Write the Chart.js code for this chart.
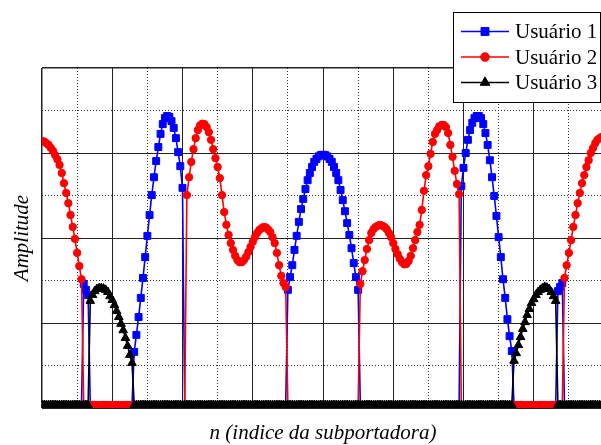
<!DOCTYPE html>
<html>
<head>
<meta charset="utf-8">
<script src="https://cdn.jsdelivr.net/npm/chart.js"></script>
<style>
	html, body { margin: 0; padding: 0; background: #fff; overflow: hidden; }
	#mycanvas { display: block; }
</style>
</head>
<body>
<canvas id="mycanvas" width="610" height="445"></canvas>
<script>
// amplitude por subportadora (n = 0..255)
var usuario1 = [
	0,0,0,0,0,0,0,0,0,0,0,0,0,0,0,0,
	0,0,0,2.85,2.71,2.59,0,0,0,0,0,0,0,0,0,0,
	0,0,0,0,0,0,0,0,0,0,1.25,1.65,2.07,2.52,2.99,3.48,
	3.98,4.47,4.94,5.36,5.74,6.07,6.38,6.61,6.75,6.80,6.78,6.68,6.52,6.28,5.95,5.62,
	5.11,0,0,0,0,0,0,0,0,0,0,0,0,0,0,0,
	0,0,0,0,0,0,0,0,0,0,0,0,0,0,0,0,
	0,0,0,0,0,0,0,0,0,0,0,0,0,0,0,0,
	2.71,3.01,3.29,3.65,3.98,4.31,4.61,4.85,5.08,5.29,5.46,5.60,5.72,5.79,5.85,5.88,
	5.89,5.88,5.85,5.79,5.72,5.60,5.46,5.29,5.06,4.82,4.56,4.28,4.00,3.69,3.34,3.01,
	2.71,0,0,0,0,0,0,0,0,0,0,0,0,0,0,0,
	0,0,0,0,0,0,0,0,0,0,0,0,0,0,0,0,
	0,0,0,0,0,0,0,0,0,0,0,0,0,0,0,5.15,
	5.58,5.93,6.24,6.47,6.64,6.75,6.80,6.80,6.75,6.61,6.40,6.12,5.76,5.36,4.92,4.45,
	3.95,3.48,2.96,2.52,2.02,1.62,1.27,0,0,0,0,0,0,0,0,0,
	0,0,0,0,0,0,0,0,0,0,0,2.68,2.78,2.87,0,0,
	0,0,0,0,0,0,0,0,0,0,0,0,0,0,0,0
];
var usuario2 = [
	6.21,6.20,6.16,6.12,6.05,5.98,5.88,5.78,5.65,5.46,5.22,4.99,4.75,4.47,4.19,3.91,
	3.58,3.27,2.96,0,0,0,0,0,0,0,0,0,0,0,0,0,
	0,0,0,0,0,0,0,0,0,0,0,0,0,0,0,0,
	0,0,0,0,0,0,0,0,0,0,0,0,0,0,0,0,
	0,0,4.94,5.36,5.72,6.02,6.28,6.47,6.58,6.62,6.61,6.54,6.42,6.24,6.02,5.81,
	5.60,5.34,4.94,4.54,4.24,4.00,3.81,3.65,3.51,3.41,3.36,3.36,3.41,3.49,3.60,3.72,
	3.84,3.95,4.05,4.12,4.16,4.19,4.18,4.13,4.07,3.95,3.81,3.58,3.29,3.04,2.87,2.78,
	0,0,0,0,0,0,0,0,0,0,0,0,0,0,0,0,
	0,0,0,0,0,0,0,0,0,0,0,0,0,0,0,0,
	0,2.85,3.15,3.41,3.67,3.88,4.05,4.14,4.19,4.22,4.24,4.22,4.19,4.14,4.05,3.95,
	3.81,3.67,3.55,3.44,3.36,3.31,3.32,3.39,3.51,3.69,3.88,4.07,4.24,4.59,5.04,5.41,
	5.62,5.91,6.19,6.38,6.47,6.56,6.59,6.59,6.54,6.40,6.12,5.84,5.51,5.20,4.96,0,
	0,0,0,0,0,0,0,0,0,0,0,0,0,0,0,0,
	0,0,0,0,0,0,0,0,0,0,0,0,0,0,0,0,
	0,0,0,0,0,0,0,0,0,0,0,0,0,0,2.99,3.29,
	3.58,3.88,4.19,4.47,4.75,4.99,5.22,5.41,5.60,5.76,5.93,6.05,6.16,6.24,6.28,6.31
];
var usuario3 = [
	0,0,0,0,0,0,0,0,0,0,0,0,0,0,0,0,
	0,0,0,0,0,0,2.45,2.59,2.68,2.73,2.75,2.75,2.74,2.71,2.66,2.56,
	2.47,2.35,2.21,2.07,1.91,1.76,1.58,1.39,1.18,0.99,0,0,0,0,0,0,
	0,0,0,0,0,0,0,0,0,0,0,0,0,0,0,0,
	0,0,0,0,0,0,0,0,0,0,0,0,0,0,0,0,
	0,0,0,0,0,0,0,0,0,0,0,0,0,0,0,0,
	0,0,0,0,0,0,0,0,0,0,0,0,0,0,0,0,
	0,0,0,0,0,0,0,0,0,0,0,0,0,0,0,0,
	0,0,0,0,0,0,0,0,0,0,0,0,0,0,0,0,
	0,0,0,0,0,0,0,0,0,0,0,0,0,0,0,0,
	0,0,0,0,0,0,0,0,0,0,0,0,0,0,0,0,
	0,0,0,0,0,0,0,0,0,0,0,0,0,0,0,0,
	0,0,0,0,0,0,0,0,0,0,0,0,0,0,0,0,
	0,0,0,0,0,0,0,1.04,1.22,1.41,1.60,1.79,1.95,2.12,2.26,2.40,
	2.49,2.59,2.66,2.71,2.75,2.78,2.76,2.73,2.66,2.56,2.45,0,0,0,0,0,
	0,0,0,0,0,0,0,0,0,0,0,0,0,0,0,0
];

var legendas = ['Usuário 1', 'Usuário 2', 'Usuário 3'];

// linhas de grade: cheias (maiores) e pontilhadas (menores)
var xMaior = [0, 32, 64, 96, 128, 160, 192, 224, 256];
var xMenor = [16, 48, 80, 112, 144, 176, 208, 240];
var yMaior = [-0.07, 1.93, 3.93, 5.93, 7.93];
var yMenor = [0.93, 2.93, 4.93, 6.93];

function pontos(serie) {
	var out = [];
	for (var n = 0; n < serie.length; n++) {
		out.push({x: n, y: serie[n]});
	}
	return out;
}

function marca(ctx, estilo, x, y, r, cor) {
	ctx.fillStyle = cor;
	ctx.strokeStyle = cor;
	ctx.lineWidth = 1;
	ctx.beginPath();
	if (estilo == 'rect') {
		var s = r * Math.SQRT1_2;
		ctx.rect(x - s, y - s, 2 * s, 2 * s);
	} else if (estilo == 'triangle') {
		ctx.moveTo(x, y - r);
		ctx.lineTo(x + r * 0.866, y + r / 2);
		ctx.lineTo(x - r * 0.866, y + r / 2);
		ctx.closePath();
	} else {
		ctx.arc(x, y, r, 0, Math.PI * 2);
	}
	ctx.fill();
	ctx.stroke();
}

var caixaLegenda = {
	id: 'caixaLegenda',
	afterDraw: function(chart) {
		var ctx = chart.ctx;
		var linhas = [31.5, 57, 82.5];
		var raios = [5.6, 4.3, 5.6];
		ctx.save();
		ctx.fillStyle = '#fff';
		ctx.fillRect(453.5, 12.5, 147, 90);
		ctx.strokeStyle = '#000';
		ctx.lineWidth = 1;
		ctx.strokeRect(453.5, 12.5, 147, 90);
		for (var k = 0; k < 3; k++) {
			var ds = chart.data.datasets[k];
			var y = linhas[k];
			ctx.strokeStyle = ds.borderColor;
			ctx.lineWidth = 1.5;
			ctx.beginPath();
			ctx.moveTo(461, y);
			ctx.lineTo(509, y);
			ctx.stroke();
			marca(ctx, ds.pointStyle, 485, y, raios[k], ds.borderColor);
			ctx.fillStyle = '#000';
			ctx.font = '21px "Liberation Serif"';
			ctx.textBaseline = 'alphabetic';
			ctx.textAlign = 'left';
			ctx.fillText(legendas[k], 515, y + 6.5);
		}
		ctx.restore();
	}
};

function ticksDe(lista) {
	return function(scale) {
		scale.ticks = lista.map(function(v) { return {value: v}; });
	};
}

var fonteTitulo = {family: 'Liberation Serif', size: 21, style: 'italic', lineHeight: 1};

var ctx = document.getElementById('mycanvas');

var grafico = new Chart(ctx, {
	type: 'line',
	data: {
		datasets: [
			{
				label: legendas[0],
				data: pontos(usuario1),
				borderColor: '#0000ff',
				backgroundColor: '#0000ff',
				pointBackgroundColor: '#0000ff',
				pointBorderColor: '#0000ff',
				pointStyle: 'rect',
				pointRadius: 4.9,
				pointBorderWidth: 1,
				borderWidth: 1.6,
				tension: 0,
				clip: 0,
				order: 3
			},
			{
				label: legendas[1],
				data: pontos(usuario2),
				borderColor: '#ff0000',
				backgroundColor: '#ff0000',
				pointBackgroundColor: '#ff0000',
				pointBorderColor: '#ff0000',
				pointStyle: 'circle',
				pointRadius: 3.7,
				pointBorderWidth: 1,
				borderWidth: 1.6,
				tension: 0,
				clip: 0,
				order: 2
			},
			{
				label: legendas[2],
				data: pontos(usuario3),
				borderColor: '#000000',
				backgroundColor: '#000000',
				pointBackgroundColor: '#000000',
				pointBorderColor: '#000000',
				pointStyle: 'triangle',
				pointRadius: 5,
				pointBorderWidth: 1,
				borderWidth: 1.6,
				tension: 0,
				clip: 0,
				order: 1
			}
		]
	},
	options: {
		responsive: false,
		animation: false,
		events: [],
		layout: { padding: {top: 68, left: 0, right: 0, bottom: 0} },
		plugins: {
			legend: { display: false },
			tooltip: { enabled: false }
		},
		scales: {
			x: {
				type: 'linear',
				position: 'bottom',
				min: 0,
				max: 256,
				afterBuildTicks: ticksDe(xMaior),
				afterFit: function(s) { s.height = 37; },
				ticks: { display: false },
				grid: {
					color: '#222',
					lineWidth: function(c) { return c.tick && c.tick.value === 0 ? 1.5 : 1; },
					drawTicks: false
				},
				border: { display: false },
				title: {
					display: true,
					text: 'n (indice da subportadora)',
					color: '#000',
					font: fonteTitulo,
					padding: {top: 0, bottom: 1.5}
				}
			},
			xMenor: {
				type: 'linear',
				position: 'bottom',
				min: 0,
				max: 256,
				afterBuildTicks: ticksDe(xMenor),
				afterFit: function(s) { s.height = 0; },
				ticks: { display: false },
				grid: { color: '#333', lineWidth: 1, drawTicks: false },
				border: { display: false, dash: [1, 2] }
			},
			y: {
				type: 'linear',
				position: 'left',
				min: -0.07,
				max: 7.93,
				afterBuildTicks: ticksDe(yMaior),
				afterFit: function(s) { s.width = 42; },
				ticks: { display: false },
				grid: {
					color: '#222',
					lineWidth: function(c) { return c.tick && c.tick.value === 7.93 ? 1.5 : 1; },
					drawTicks: false
				},
				border: { display: false },
				title: {
					display: true,
					text: 'Amplitude',
					color: '#000',
					font: fonteTitulo,
					padding: {top: 11.5, bottom: 0}
				}
			},
			yMenor: {
				type: 'linear',
				position: 'left',
				min: -0.07,
				max: 7.93,
				afterBuildTicks: ticksDe(yMenor),
				afterFit: function(s) { s.width = 0; },
				ticks: { display: false },
				grid: { color: '#333', lineWidth: 1, drawTicks: false },
				border: { display: false, dash: [1, 2] }
			}
		}
	},
	plugins: [caixaLegenda]
});
</script>
</body>
</html>
